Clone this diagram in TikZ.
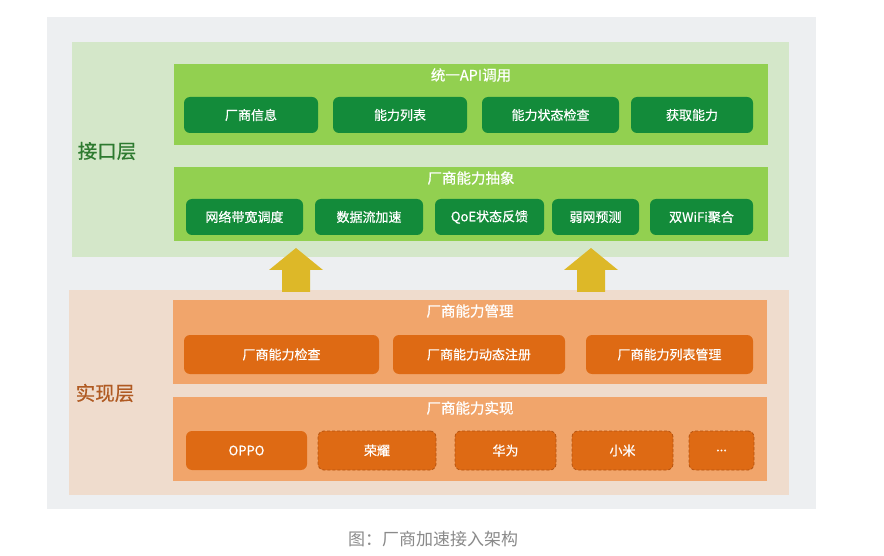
\documentclass[tikz,border=0pt]{standalone}
\usepackage{fontspec}
\setmainfont{Noto Sans CJK SC}
\newfontfamily\medfont{Noto Sans CJK SC}[FakeBold=0.6]
\begin{document}
\begin{tikzpicture}[x=1pt,y=-1pt,
  every node/.style={inner sep=0pt,outer sep=0pt,font=\fontsize{13}{15}\selectfont},
  gbtn/.style={fill=btngreen,rounded corners=6pt,text=white,minimum height=36pt,font=\fontsize{13}{15}\selectfont\medfont},
  obtn/.style={fill=btnorange,rounded corners=6pt,text=white,minimum height=39pt,font=\fontsize{13}{15}\selectfont\medfont},
  dbtn/.style={obtn,draw=dashorange,line width=0.8pt,dash pattern=on 3pt off 2pt},
  ptitle/.style={text=white,font=\fontsize{14.5}{16}\selectfont\medfont},
  laylabel/.style={font=\fontsize{19.5}{22}\selectfont\medfont},
  arrowfill/.style={fill=arrowgold,draw=none}
]
\definecolor{bggray}{HTML}{EDEFF1}
\definecolor{lgreen}{HTML}{D4E7C9}
\definecolor{pgreen}{HTML}{92D050}
\definecolor{btngreen}{HTML}{138B3A}
\definecolor{arrowgold}{HTML}{DDB828}
\definecolor{lpeach}{HTML}{EFDCCD}
\definecolor{porange}{HTML}{F1A56B}
\definecolor{btnorange}{HTML}{DE6A14}
\definecolor{dashorange}{HTML}{B5520F}
\definecolor{labgreen}{HTML}{2E7A30}
\definecolor{labbrown}{HTML}{B05A22}
\definecolor{capgray}{HTML}{8A8A8A}

\useasboundingbox (0,0) rectangle (884,556);
\fill[white] (0,0) rectangle (884,556);

% background
\node[fill=bggray,minimum width=769pt,minimum height=492pt] (bg) at (431.5,263) {};

% interface layer
\node[fill=lgreen,minimum width=717pt,minimum height=215pt] (iface) at (430.5,149.5) {};
\node[fill=pgreen,minimum width=594pt,minimum height=81pt] (api) at (471,104.5) {};
\node[fill=pgreen,minimum width=594pt,minimum height=74pt] (abs) at (471,204) {};
\node[ptitle] (apit) at (471,75) {统一API调用};
\node[ptitle] (abst) at (471,178) {厂商能力抽象};
\node[laylabel,text=labgreen] (ifl) at (107,151) {接口层};

\node[gbtn,minimum width=134pt] (b1) at (251,115) {厂商信息};
\node[gbtn,minimum width=134pt] (b2) at (400,115) {能力列表};
\node[gbtn,minimum width=137pt] (b3) at (550.5,115) {能力状态检查};
\node[gbtn,minimum width=122pt] (b4) at (692,115) {获取能力};

\node[gbtn,minimum width=117pt] (c1) at (244.5,217) {网络带宽调度};
\node[gbtn,minimum width=108pt] (c2) at (369,217) {数据流加速};
\node[gbtn,minimum width=109pt] (c3) at (489.5,217) {QoE状态反馈};
\node[gbtn,minimum width=87pt] (c4) at (595.5,217) {弱网预测};
\node[gbtn,minimum width=103pt] (c5) at (701.5,217) {双WiFi聚合};

% implementation layer
\node[fill=lpeach,minimum width=720pt,minimum height=205pt] (impl) at (429,392.5) {};
\node[fill=porange,minimum width=594pt,minimum height=84pt] (mgmt) at (470,342) {};
\node[fill=porange,minimum width=594pt,minimum height=84pt] (real) at (470,439) {};
\node[ptitle] (mgmtt) at (470,311) {厂商能力管理};
\node[ptitle] (realt) at (470,408) {厂商能力实现};
\node[laylabel,text=labbrown] (iml) at (105,393) {实现层};

\node[obtn,minimum width=195pt] (d1) at (281.5,354.5) {厂商能力检查};
\node[obtn,minimum width=172pt] (d2) at (479,354.5) {厂商能力动态注册};
\node[obtn,minimum width=167pt] (d3) at (669.5,354.5) {厂商能力列表管理};

\node[obtn,minimum width=121pt] (e1) at (246.5,450.5) {OPPO};
\node[dbtn,minimum width=118pt] (e2) at (377,450.5) {荣耀};
\node[dbtn,minimum width=101pt] (e3) at (505.5,450.5) {华为};
\node[dbtn,minimum width=101pt] (e4) at (622.5,450.5) {小米};
\node[dbtn,minimum width=65pt] (e5) at (721.5,450.5) {...};

% arrows
\fill[arrowfill] (282,292) -- (282,270) -- (269,270) -- (296,248) -- (323,270) -- (310,270) -- (310,292) -- cycle;
\fill[arrowfill] (577,292) -- (577,270) -- (564,270) -- (591,248) -- (618,270) -- (605,270) -- (605,292) -- cycle;

% caption
\node[text=capgray,font=\fontsize{17}{20}\selectfont] (cap) at (433,539) {图：厂商加速接入架构};
\end{tikzpicture}
\end{document}
